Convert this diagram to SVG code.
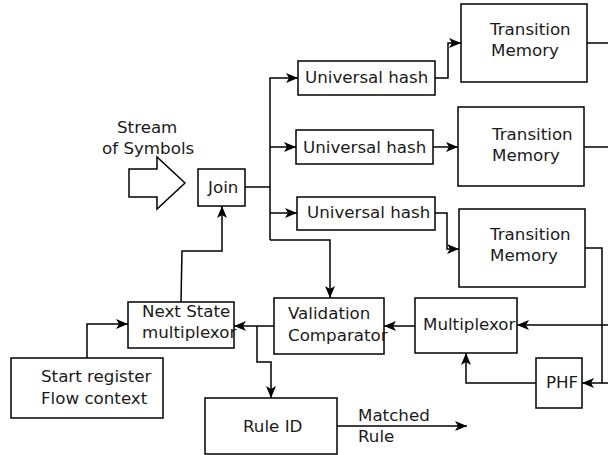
<svg xmlns="http://www.w3.org/2000/svg" width="608" height="455" viewBox="0 0 608 455">
<style>
.box{fill:#fff;stroke:#000;stroke-width:1.5}
.t{font-family:"DejaVu Sans",sans-serif;font-size:16.7px;fill:#1a1a1a}
.c{fill:none;stroke:#000;stroke-width:1.5}
.a{marker-end:url(#ah)}
</style>
<defs>
<marker id="ah" markerUnits="userSpaceOnUse" markerWidth="12" markerHeight="12" viewBox="0 0 12 12" refX="12" refY="6" orient="auto">
<path d="M0,1 L12,6 L0,11 L3,6 z" fill="#000"/>
</marker>
</defs>
<g id="connectors">
<polyline class="c" points="245,187 270,187"/>
<polyline class="c a" points="270,240 270,78 298,78"/>
<polyline class="c a" points="270,147 296,147"/>
<polyline class="c a" points="270,213 297,213"/>
<polyline class="c a" points="270,240 330,240 330,298"/>
<polyline class="c a" points="435,78 448,78 448,43 461,43"/>
<polyline class="c a" points="433,147 458,147"/>
<polyline class="c a" points="435,213 447,213 447,249 459,249"/>
<polyline class="c" points="587,43 608,43"/>
<polyline class="c" points="584,147 608,147"/>
<polyline class="c a" points="585,248 602,248 602,383 582,383"/>
<polyline class="c" points="608,383 602,383"/>
<polyline class="c a" points="608,325 517,325"/>
<polyline class="c a" points="536,383 466,383 466,353"/>
<polyline class="c a" points="415,326 384,326"/>
<polyline class="c a" points="274,326 234,326"/>
<polyline class="c a" points="257,326 257,362 271,362 271,398"/>
<polyline class="c a" points="181,302 182,251 222,251 222,206"/>
<polyline class="c a" points="87,358 87,324 128,324"/>
<polyline class="c a" points="337,426 467,426"/>
</g>
<g id="stream">
<path class="box" d="M129,169 L157,169 L157,157 L185,183 L157,209 L157,197 L129,197 Z"/>
<text class="t" x="117" y="133">Stream</text>
<text class="t" x="102" y="154">of Symbols</text>
</g>
<g id="join"><rect class="box" x="198" y="169" width="47" height="37"/><text class="t" x="208" y="193">Join</text></g>
<g id="uh1"><rect class="box" x="298" y="61" width="137" height="34"/><text class="t" x="305" y="83">Universal hash</text></g>
<g id="uh2"><rect class="box" x="296" y="130" width="137" height="34"/><text class="t" x="303" y="153">Universal hash</text></g>
<g id="uh3"><rect class="box" x="297" y="197" width="138" height="33"/><text class="t" x="307" y="218">Universal hash</text></g>
<g id="tm1"><rect class="box" x="461" y="4" width="126" height="78"/><text class="t" x="490" y="35">Transition</text><text class="t" x="491" y="56">Memory</text></g>
<g id="tm2"><rect class="box" x="458" y="107" width="126" height="79"/><text class="t" x="492" y="140">Transition</text><text class="t" x="492" y="161">Memory</text></g>
<g id="tm3"><rect class="box" x="459" y="209" width="126" height="78"/><text class="t" x="490" y="240">Transition</text><text class="t" x="490" y="261">Memory</text></g>
<g id="validation"><rect class="box" x="274" y="298" width="110" height="56"/><text class="t" x="288" y="319">Validation</text><text class="t" x="288" y="341">Comparator</text></g>
<g id="multiplexor"><rect class="box" x="415" y="298" width="102" height="55"/><text class="t" x="423" y="330">Multiplexor</text></g>
<g id="phf"><rect class="box" x="536" y="358" width="46" height="50"/><text class="t" x="546" y="388">PHF</text></g>
<g id="nextstate"><rect class="box" x="128" y="302" width="106" height="46"/><text class="t" x="142" y="317">Next State</text><text class="t" x="142" y="338">multiplexor</text></g>
<g id="start"><rect class="box" x="11" y="358" width="152" height="60"/><text class="t" x="41" y="382">Start register</text><text class="t" x="41" y="404">Flow context</text></g>
<g id="ruleid"><rect class="box" x="205" y="398" width="132" height="56"/><text class="t" x="243" y="432">Rule ID</text></g>
<g id="matched"><text class="t" x="358" y="421">Matched</text><text class="t" x="358" y="442">Rule</text></g>
</svg>
